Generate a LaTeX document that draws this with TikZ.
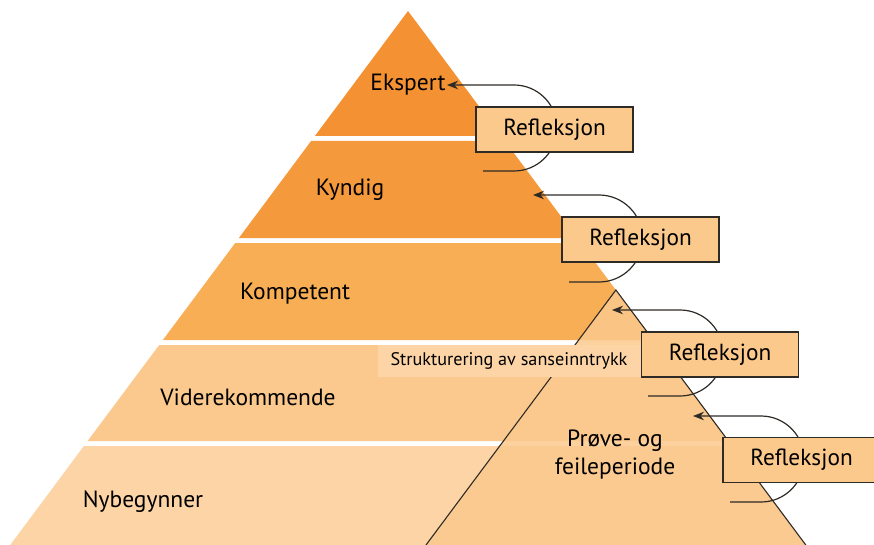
\documentclass[tikz,border=0pt]{standalone}
\usepackage{fontspec}
\setmainfont{PT Sans}
\usetikzlibrary{arrows.meta}
\definecolor{ekspert}{HTML}{F39133}
\definecolor{kyndig}{HTML}{F49A3D}
\definecolor{kompetent}{HTML}{F7AE55}
\definecolor{videre}{HTML}{FBC98D}
\definecolor{nybeg}{HTML}{FCD4A6}
\definecolor{boxfill}{HTML}{FCC98C}
\definecolor{edge}{HTML}{2E2A25}
\tikzset{
  refl/.style={draw=edge, fill=boxfill, line width=1.3pt, minimum width=157pt,
    minimum height=45pt, inner sep=0pt, font=\fontsize{23.3}{27}\selectfont},
  lvl/.style={font=\fontsize{23.5}{28}\selectfont, inner sep=0pt},
  loop/.style={line width=1.2pt, draw=edge, -{Stealth[length=11pt,width=8.5pt]}},
}
\begin{document}
\begin{tikzpicture}[x=1pt,y=-1pt]
                \useasboundingbox (0,0) rectangle (874,545);
                % bands
                \fill [ekspert] (408,11) -- (501.1,136) -- (314.9,136) -- cycle;
                \fill [kyndig] (311.1,141) -- (504.9,141) -- (577.1,238) -- (238.9,238) -- cycle;
                \fill [kompetent] (235.2,243) -- (580.8,243) -- (653.1,340) -- (162.9,340) -- cycle;
                \fill [videre] (159.2,345) -- (656.8,345) -- (728.4,441) -- (87.6,441) -- cycle;
                \fill [nybeg] (83.9,446) -- (732.1,446) -- (805.8,545) -- (10.2,545) -- cycle;

                % small triangle
                \fill [videre, fill opacity=0.85] (615.9,290) -- (805.8,545) -- (426,545) -- cycle;
                \draw [edge, line width=1.1pt] (426,545) -- (615.9,290) -- (805.8,545);

                \fill [nybeg] (378,345) rectangle (642,377);
                \node [font=\fontsize{18.2}{21}\selectfont, inner sep=0pt] (sans) at (509,361) {Strukturering av sanseinntrykk};

                % loops
                \coordinate (s1) at (483,171);
                \coordinate (t1) at (447,85);
                \coordinate (s2) at (569,282);
                \coordinate (t2) at (533,195);
                \coordinate (s3) at (648,396);
                \coordinate (t3) at (612,310);
                \coordinate (s4) at (730,502);
                \coordinate (t4) at (693,416);
                \draw [loop] (s1) -- ++(31,0) arc [start angle=90, end angle=-90, radius=43] -- (t1);
                \draw [loop] (s2) -- ++(30,0) arc [start angle=90, end angle=-90, radius=43.5] -- (t2);
                \draw [loop] (s3) -- ++(32,0) arc [start angle=90, end angle=-90, radius=43] -- (t3);
                \draw [loop] (s4) -- ++(31,0) arc [start angle=90, end angle=-90, radius=43] -- (t4);

                \node [refl] (r1) at (554.5,129.5) {Refleksjon};
                \node [refl] (r2) at (640.5,239.5) {Refleksjon};
                \node [refl] (r3) at (720,354.5) {Refleksjon};
                \node [refl] (r4) at (801.5,460) {Refleksjon};

                % levels
                \node [lvl] (eks) at (408,85) {Ekspert};
                \node [lvl] (kyn) at (350,190) {Kyndig};
                \node [lvl] (kom) at (295,294) {Kompetent};
                \node [lvl] (vid) at (248,397) {Viderekommende};
                \node [lvl] (nyb) at (143,502) {Nybegynner};
                \node [lvl, align=center, font=\fontsize{23.5}{28}\selectfont] (prove) at (615,455) {Prøve- og\\feileperiode};
            \end{tikzpicture}
\end{document}
